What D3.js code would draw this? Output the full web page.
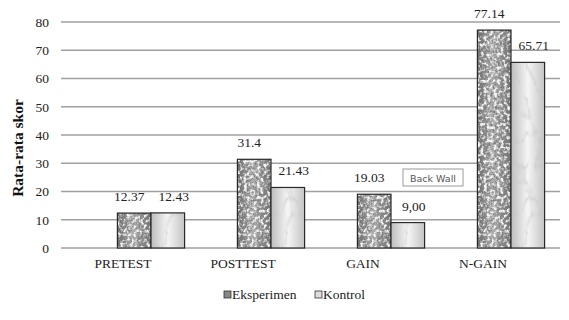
<!DOCTYPE html>
<html lang="en">
  <head>
    <meta charset="UTF-8" />
    <title>Rata-rata skor</title>
    <style>
      body { margin: 0; background: #fff; }
    </style>
  </head>
  <body>
    <script src="https://cdn.jsdelivr.net/npm/d3@7"></script>
    <script>
      var categories = ["PRETEST", "POSTTEST", "GAIN", "N-GAIN"];
      var series = ["Eksperimen", "Kontrol"];
      var eksperimen = [12.37, 31.4, 19.03, 77.14];
      var kontrol = [12.43, 21.43, 9.00, 65.71];
      var eksperimenLabels = ["12.37", "31.4", "19.03", "77.14"];
      var kontrolLabels = ["12.43", "21.43", "9,00", "65.71"];
      var yTicks = [0, 10, 20, 30, 40, 50, 60, 70, 80];

      var w = 569, h = 320;
      var serif = "Liberation Serif, serif";

      var svg = d3.select("body").append("svg")
                  .attr("width", w)
                  .attr("height", h)
                  .style("font-family", serif);

      var defs = svg.append("defs");

      // cylinder-ish shading for the bars
      var g1 = defs.append("linearGradient").attr("id", "gradE");
      g1.append("stop").attr("offset", "0%").attr("stop-color", "#686868");
      g1.append("stop").attr("offset", "45%").attr("stop-color", "#b0b0b0");
      g1.append("stop").attr("offset", "100%").attr("stop-color", "#6e6e6e");

      var g2 = defs.append("linearGradient").attr("id", "gradK");
      g2.append("stop").attr("offset", "0%").attr("stop-color", "#bdbdbd");
      g2.append("stop").attr("offset", "50%").attr("stop-color", "#f5f5f5");
      g2.append("stop").attr("offset", "100%").attr("stop-color", "#c4c4c4");

      // granite speckle
      var fE = defs.append("filter").attr("id", "noiseE")
                   .attr("x", 0).attr("y", 0).attr("width", 1).attr("height", 1);
      fE.append("feTurbulence").attr("type", "fractalNoise")
        .attr("baseFrequency", 0.45).attr("numOctaves", 3).attr("seed", 4);
      fE.append("feColorMatrix").attr("type", "matrix")
        .attr("values", "0 0 0 0 0.2  0 0 0 0 0.2  0 0 0 0 0.2  -4 0 0 0 2.15")
        .attr("result", "dark");
      fE.append("feComposite").attr("in", "dark").attr("in2", "SourceGraphic")
        .attr("operator", "in");

      var fE2 = defs.append("filter").attr("id", "noiseE2")
                    .attr("x", 0).attr("y", 0).attr("width", 1).attr("height", 1);
      fE2.append("feTurbulence").attr("type", "fractalNoise")
         .attr("baseFrequency", 0.3).attr("numOctaves", 2).attr("seed", 9);
      fE2.append("feColorMatrix").attr("type", "matrix")
         .attr("values", "0 0 0 0 0.9  0 0 0 0 0.9  0 0 0 0 0.9  4 0 0 0 -1.8")
         .attr("result", "light");
      fE2.append("feComposite").attr("in", "light").attr("in2", "SourceGraphic")
         .attr("operator", "in");

      // marble veins
      var fK = defs.append("filter").attr("id", "noiseK")
                   .attr("x", 0).attr("y", 0).attr("width", 1).attr("height", 1);
      fK.append("feTurbulence").attr("type", "turbulence")
        .attr("baseFrequency", "0.06 0.03").attr("numOctaves", 3).attr("seed", 2);
      fK.append("feColorMatrix").attr("type", "matrix")
        .attr("values", "0 0 0 0 0.55  0 0 0 0 0.55  0 0 0 0 0.55  -2.5 0 0 0 0.55")
        .attr("result", "vein");
      fK.append("feComposite").attr("in", "vein").attr("in2", "SourceGraphic")
        .attr("operator", "in");

      var yScale = d3.scaleLinear().domain([0, 80]).range([248, 22]);

      var xScale = d3.scaleBand().domain(categories).range([91, 571])
                     .paddingInner(0.44).paddingOuter(0.22);
      var xSub = d3.scaleBand().domain(series).range([0, xScale.bandwidth()]);

      // labels sit shifted left because of the chart depth
      var xLabel = d3.scaleBand().domain(categories).range([63, 543]);

      // grid
      svg.append("g")
         .selectAll("line")
         .data(yTicks)
         .enter().append("line")
         .attr("x1", 61).attr("x2", 560)
         .attr("y1", function(d) { return yScale(d); })
         .attr("y2", function(d) { return yScale(d); })
         .attr("stroke", "#a0a0a0")
         .attr("stroke-width", 1.5);

      var yAxis = d3.axisLeft(yScale).tickValues(yTicks).tickSize(0).tickPadding(0);
      var ya = svg.append("g").attr("transform", "translate(49,0)").call(yAxis);
      ya.attr("font-family", null).attr("font-size", null);
      ya.select(".domain").remove();
      ya.selectAll("text").attr("fill", "#222")
        .style("font-family", serif).style("font-size", "13.5px");

      var xAxis = d3.axisBottom(xLabel).tickSize(0).tickPadding(0);
      var xa = svg.append("g").attr("transform", "translate(0,258)").call(xAxis);
      xa.attr("font-family", null).attr("font-size", null);
      xa.select(".domain").remove();
      xa.selectAll("text").attr("fill", "#222")
        .style("font-family", serif).style("font-size", "13.5px");

      var rows = categories.map(function(c, i) {
        return [
          { cat: c, s: "Eksperimen", v: eksperimen[i], label: eksperimenLabels[i] },
          { cat: c, s: "Kontrol", v: kontrol[i], label: kontrolLabels[i] }
        ];
      });

      var groups = svg.append("g")
                      .selectAll("g")
                      .data(rows)
                      .enter().append("g")
                      .attr("transform", function(d) {
                        return "translate(" + xScale(d[0].cat) + ",0)"; });

      var bars = groups.selectAll("g.bar")
                       .data(function(d) { return d; })
                       .enter().append("g")
                       .attr("class", "bar");

      function rect(sel) {
        return sel.append("rect")
                  .attr("x", function(d) { return xSub(d.s); })
                  .attr("y", function(d) { return yScale(d.v); })
                  .attr("width", xSub.bandwidth())
                  .attr("height", function(d) { return yScale(0) - yScale(d.v); });
      }

      rect(bars).attr("fill", function(d) {
        return d.s === "Eksperimen" ? "url(#gradE)" : "url(#gradK)"; });
      rect(bars.filter(function(d) { return d.s === "Eksperimen"; }))
        .attr("fill", "#000").attr("filter", "url(#noiseE)");
      rect(bars.filter(function(d) { return d.s === "Eksperimen"; }))
        .attr("fill", "#000").attr("filter", "url(#noiseE2)");
      rect(bars.filter(function(d) { return d.s === "Kontrol"; }))
        .attr("fill", "#000").attr("filter", "url(#noiseK)");
      rect(bars).attr("fill", "none")
        .attr("stroke", "#2a2a2a").attr("stroke-width", 1.2);

      bars.append("text")
          .attr("x", function(d) {
            return xSub(d.s) + xSub.bandwidth() / 2 + (d.s === "Eksperimen" ? -5 : 6); })
          .attr("y", function(d) { return yScale(d.v) - 12; })
          .attr("text-anchor", "middle")
          .style("font-family", serif)
          .style("font-size", "13.5px")
          .attr("fill", "#222")
          .text(function(d) { return d.label; });

      // y title
      svg.append("text")
         .attr("transform", "translate(23,148) rotate(-90)")
         .attr("text-anchor", "middle")
         .style("font-family", serif)
         .style("font-size", "15.5px")
         .style("font-weight", "bold")
         .attr("fill", "#111")
         .text("Rata-rata skor");

      // "Back Wall" tooltip left in the screenshot
      var tip = svg.append("g").attr("transform", "translate(403,169)");
      tip.append("rect").attr("width", 60).attr("height", 17)
         .attr("fill", "#fff").attr("stroke", "#9a9a9a");
      tip.append("text").attr("x", 30).attr("y", 12.5)
         .attr("text-anchor", "middle")
         .style("font-family", "DejaVu Sans, sans-serif")
         .style("font-size", "9.5px")
         .attr("fill", "#555")
         .text("Back Wall");

      // legend
      var legendX = d3.scaleOrdinal().domain(series).range([224, 315]);
      var leg = svg.append("g")
                   .selectAll("g")
                   .data(series)
                   .enter().append("g")
                   .attr("transform", function(d) {
                     return "translate(" + legendX(d) + ",291)"; });
      leg.append("rect").attr("width", 7).attr("height", 7)
         .attr("fill", function(d) { return d === "Eksperimen" ? "#888" : "#ddd"; })
         .attr("stroke", "#333").attr("stroke-width", 0.8);
      leg.append("text").attr("x", 8).attr("y", 8)
         .style("font-family", serif)
         .style("font-size", "13.5px")
         .attr("fill", "#222")
         .text(function(d) { return d; });
    </script>
  </body>
</html>
